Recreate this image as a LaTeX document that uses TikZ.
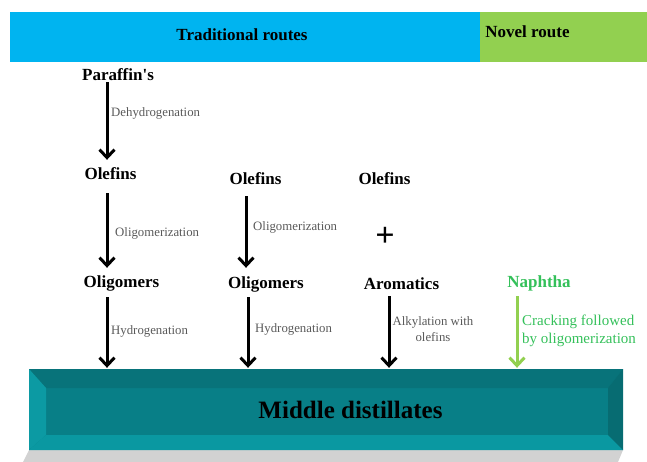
\documentclass[tikz,border=0pt]{standalone}
\usepackage{fontspec}
\setmainfont{Liberation Serif}
\usetikzlibrary{arrows.meta}
\definecolor{barblue}{HTML}{00B4F0}
\definecolor{bargreen}{HTML}{92D050}
\definecolor{tealface}{HTML}{087F87}
\definecolor{tealtop}{HTML}{08737A}
\definecolor{tealleft}{HTML}{0C9AA3}
\definecolor{tealbot}{HTML}{0A98A1}
\definecolor{tealright}{HTML}{076C72}
\definecolor{shadowgray}{HTML}{D2D2D2}
\definecolor{labelgray}{HTML}{595959}
\definecolor{novgreen}{HTML}{34C05A}
\definecolor{arrgreen}{HTML}{92D050}
\tikzset{
  big/.style={font=\fontsize{17}{20}\selectfont\bfseries, inner sep=0pt, text height=12pt, text depth=4pt},
  small/.style={font=\fontsize{12.8}{15.7}\selectfont, text=labelgray, inner sep=0pt, anchor=west},
  arr/.style={line width=3pt, -{Straight Barb[length=8pt,width=15pt,line width=3pt]}},
  garr/.style={arr, draw=arrgreen},
}
\begin{document}
\begin{tikzpicture}[x=1pt,y=-1pt]
\useasboundingbox (0,0) rectangle (647,462);
% top bars
\fill[barblue] (10,12) rectangle (480,62);
\fill[bargreen] (480,12) rectangle (647,62);
\node[big] (trad) at (242,37) {Traditional routes};
\node[big] (nov) at (527.5,34) {Novel route};
% middle distillates box
\fill[shadowgray] (29,450) -- (623,450) -- (618,462) -- (23,462) -- cycle;
\node[inner sep=0pt, minimum width=594pt, minimum height=81pt, fill=tealface] (md) at (326,409.5) {};
\fill[tealtop] (29,369) -- (623,369) -- (608,388) -- (46,388) -- cycle;
\fill[tealleft] (29,369) -- (46,388) -- (46,435) -- (29,450) -- cycle;
\fill[tealbot] (29,450) -- (46,435) -- (608,435) -- (623,450) -- cycle;
\fill[tealright] (623,369) -- (608,388) -- (608,435) -- (623,450) -- cycle;
\node[font=\fontsize{25}{28}\selectfont\bfseries, inner sep=0pt] (mdt) at (350.5,410) {Middle distillates};
% column nodes
\node[big] (par) at (118,77) {Paraffin\textquotesingle s};
\node[big] (ole1) at (110.5,176) {Olefins};
\node[big] (olg1) at (121.5,283) {Oligomers};
\node[big] (ole2) at (255.5,181) {Olefins};
\node[big] (olg2) at (266,284) {Oligomers};
\node[big] (ole3) at (384.5,181) {Olefins};
\node[font=\fontsize{34}{34}\selectfont\bfseries, inner sep=0pt] (plus) at (385,237) {+};
\node[big] (aro) at (401.5,285) {Aromatics};
\node[big, text=novgreen] (nap) at (539,283) {Naphtha};
% arrow x positions
\coordinate (x1) at (107,0);
\coordinate (x2a) at (246,0);
\coordinate (x2b) at (248,0);
\coordinate (x3) at (389,0);
\coordinate (x4) at (517,0);
% arrows
\draw[arr] ([yshift=3pt]par.south -| x1) -- ([yshift=8pt]ole1.north -| x1);
\draw[arr] ([yshift=-9pt]ole1.south -| x1) -- ([yshift=7pt]olg1.north -| x1);
\draw[arr] ([yshift=-6pt]olg1.south -| x1) -- ([yshift=1pt]md.north -| x1);
\draw[arr] ([yshift=-7pt]ole2.south -| x2a) -- ([yshift=8pt]olg2.north -| x2a);
\draw[arr] ([yshift=-5pt]olg2.south -| x2b) -- ([yshift=1pt]md.north -| x2b);
\draw[arr] ([yshift=-3pt]aro.south -| x3) -- ([yshift=1pt]md.north -| x3);
\draw[garr] ([yshift=-5pt]nap.south -| x4) -- ([yshift=1pt]md.north -| x4);
% arrow labels
\node[small] (l1) at (111,113) {Dehydrogenation};
\node[small] (l2) at (115,233) {Oligomerization};
\node[small] (l3) at (111,331) {Hydrogenation};
\node[small] (l4) at (253,227) {Oligomerization};
\node[small] (l5) at (255,329) {Hydrogenation};
\node[small, anchor=center, align=center] (l6) at (433,329) {Alkylation with\\olefins};
\node[font=\fontsize{15}{18.5}\selectfont, text=novgreen, inner sep=0pt, anchor=west, align=left] (l7) at (522,331) {Cracking followed\\by oligomerization};
\end{tikzpicture}
\end{document}
